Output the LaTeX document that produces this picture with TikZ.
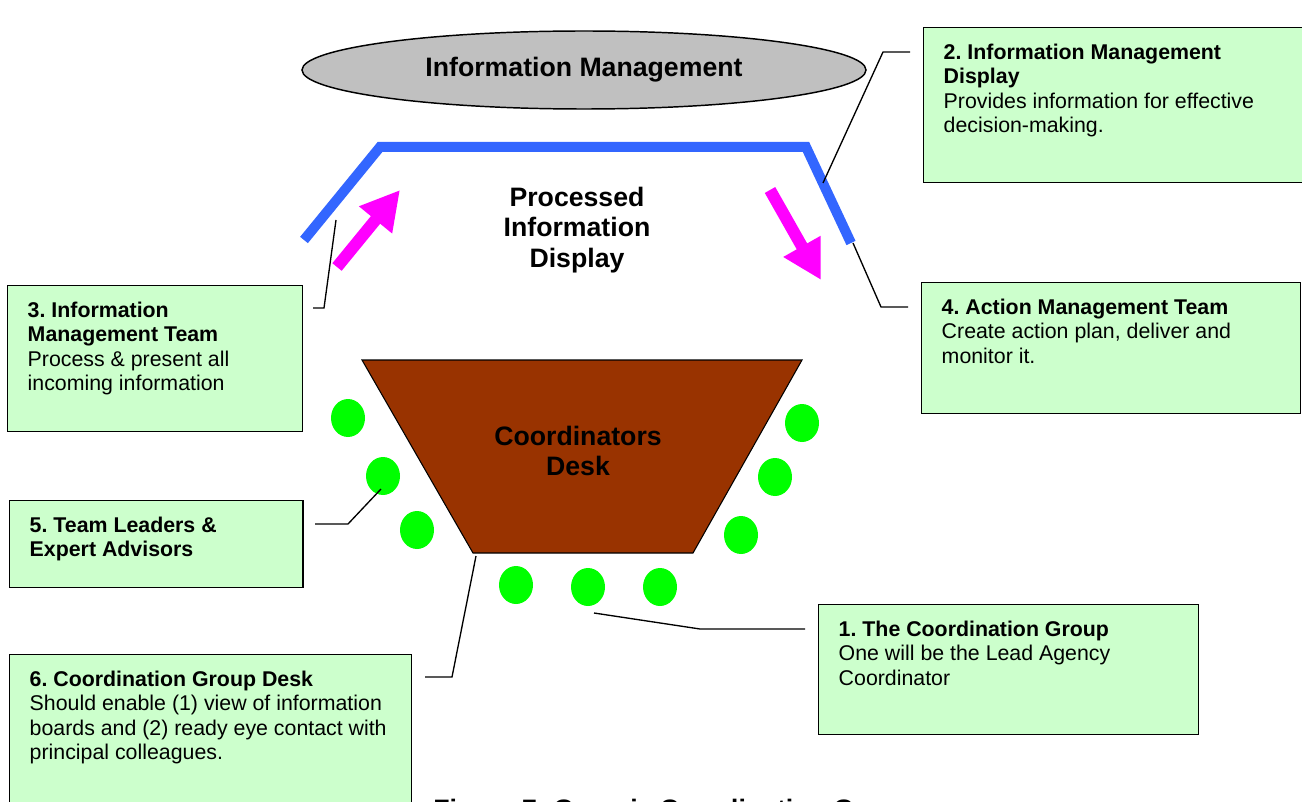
\documentclass[tikz,border=0pt]{standalone}
\usepackage{fontspec}
\setmainfont{Liberation Sans}
\usepackage{tikz}
\usetikzlibrary{positioning, arrows.meta, shapes.geometric}
\frenchspacing
\definecolor{panelgreen}{HTML}{CCFFCC}
\definecolor{boardblue}{HTML}{3366FF}
\definecolor{pushpink}{HTML}{FF00FF}
\definecolor{deskbrown}{HTML}{993300}
\definecolor{seatgreen}{HTML}{00FF00}
\definecolor{cloudgrey}{HTML}{C0C0C0}
\newcommand{\panelbody}[3]{\parbox[t][#2][t]{#1}{\fontsize{16pt}{18.4pt}\selectfont\raggedright #3}}
\tikzstyle{panel} = [rectangle, draw=black, line width=1.1pt, fill=panelgreen, anchor=north west, inner xsep=15pt, inner ysep=12pt]
\tikzstyle{cloud} = [ellipse, draw=black, line width=1.1pt, fill=cloudgrey, minimum width=423pt, minimum height=58.5pt, inner sep=0pt, font=\fontsize{20pt}{23pt}\selectfont\bfseries]
\tikzstyle{bigtext} = [align=center, inner sep=0pt, font=\fontsize{20pt}{22.8pt}\selectfont\bfseries]
\tikzstyle{seat} = [ellipse, fill=seatgreen, minimum width=25.5pt, minimum height=28.5pt, inner sep=0pt]
\tikzstyle{desk} = [draw=black, line width=0.8pt, fill=deskbrown]
\tikzstyle{board} = [draw=boardblue, line width=7.5pt]
\tikzstyle{push} = [draw=pushpink, line width=9pt, -{Triangle[length=29pt, width=30pt]}]
\tikzstyle{leader} = [draw=black, line width=1pt]

\begin{document}
\begin{tikzpicture}[x=0.75pt, y=-0.75pt]
    \useasboundingbox (0,0) rectangle (1302,802);
    \node (title) [cloud] at (584,70) {Information Management};
    \coordinate (board-a) at (304,240);
    \coordinate (board-b) at (380,147);
    \coordinate (board-c) at (806,147);
    \coordinate (board-d) at (851,243);
    \draw [board] (board-a) -- (board-b) -- (board-c) -- (board-d);
    \coordinate (push-a) at (337,267);
    \coordinate (push-b) at (400,190);
    \coordinate (push-c) at (770,190);
    \coordinate (push-d) at (821,280);
    \draw [push] (push-a) -- (push-b);
    \draw [push] (push-c) -- (push-d);
    \node (shown) [bigtext] at (577,230) {Processed\\Information\\Display};
    \coordinate (desk-nw) at (362,360);
    \coordinate (desk-ne) at (802,360);
    \coordinate (desk-se) at (693,553);
    \coordinate (desk-sw) at (473,553);
    \draw [desk] (desk-nw) -- (desk-ne) -- (desk-se) -- (desk-sw) -- cycle;
    \node (deskname) [bigtext] at (578,451) {Coordinators\\Desk};
    \foreach \n/\x/\y in {1/348/418, 2/383/476, 3/417/530, 4/516/585, 5/588/587,
                          6/660/587, 7/741/535, 8/775/477, 9/802/423}
        \node (seat\n) [seat] at (\x,\y) {};
    \node (1) [panel] at (818,604)
      {\panelbody{255pt}{73.5pt}{\textbf{1. The Coordination Group}\\One will be the Lead Agency\\Coordinator}};
    \node (2) [panel] at (923,27)
      {\panelbody{260pt}{92pt}{\textbf{2. Information Management\\Display}\\Provides information for effective\\decision-making.}};
    \node (3) [panel] at (7,285)
      {\panelbody{191pt}{85.5pt}{\textbf{3. Information\\Management Team}\\Process \& present all\\incoming information}};
    \node (4) [panel] at (921,282)
      {\panelbody{254pt}{74pt}{\textbf{4. Action Management Team}\\Create action plan, deliver and\\monitor it.}};
    \node (5) [panel] at (9,500)
      {\panelbody{190pt}{41pt}{\textbf{5. Team Leaders \&\\Expert Advisors}}};
    \node (6) [panel] at (9,654)
      {\panelbody{271.5pt}{108pt}{\textbf{6. Coordination Group Desk}\\Should enable (1) view of information\\boards and (2) ready eye contact with\\principal colleagues.}};
    \coordinate (at1) at (594,613);
    \coordinate (bend1) at (700,629);
    \coordinate (to1) at (805,629);
    \coordinate (at2) at (823,183);
    \coordinate (bend2) at (883,52);
    \coordinate (to2) at (910,52);
    \coordinate (at3) at (336,220);
    \coordinate (bend3) at (324,308);
    \coordinate (to3) at (313,308);
    \coordinate (at4) at (853,243);
    \coordinate (bend4) at (881,307);
    \coordinate (to4) at (908,307);
    \coordinate (at5) at (381,489);
    \coordinate (bend5) at (348,524);
    \coordinate (to5) at (315,524);
    \coordinate (at6) at (476,556);
    \coordinate (bend6) at (452,677);
    \coordinate (to6) at (425,677);
    \draw [leader] (at1) -- (bend1) -- (to1);
    \draw [leader] (at2) -- (bend2) -- (to2);
    \draw [leader] (at3) -- (bend3) -- (to3);
    \draw [leader] (at4) -- (bend4) -- (to4);
    \draw [leader] (at5) -- (bend5) -- (to5);
    \draw [leader] (at6) -- (bend6) -- (to6);
    \node (caption) [anchor=base west, inner sep=0pt, font=\fontsize{20pt}{24pt}\selectfont\bfseries] at (433,818)
      {Figure 7: Generic Coordination Group};
\end{tikzpicture}
\end{document}
